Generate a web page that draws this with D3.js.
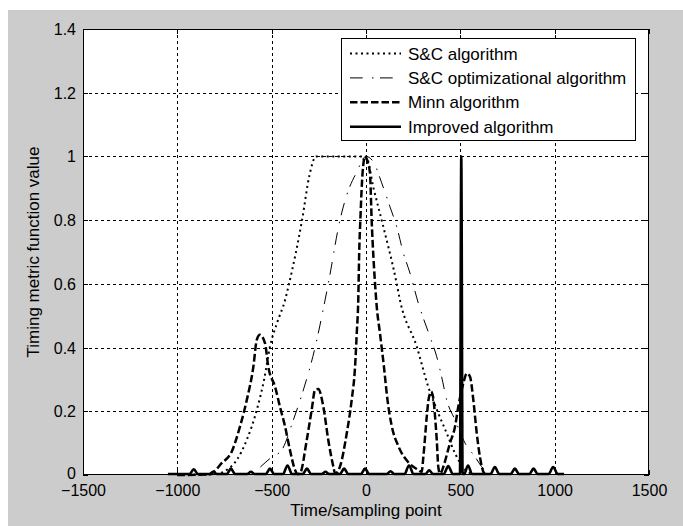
<!DOCTYPE html>
<html>
<head>
<meta charset="utf-8">
<script src="https://cdn.jsdelivr.net/npm/d3@7"></script>
<style>
html,body{margin:0;padding:0;background:#fff;}
svg{display:block;font-family:"Liberation Sans",Arial,sans-serif;}
</style>
</head>
<body>
<svg id="chart" width="683" height="526"></svg>
<script>
// ---- data ----
const xTicks = [-1500, -1000, -500, 0, 500, 1000, 1500];
const yTicks = [0, 0.2, 0.4, 0.6, 0.8, 1, 1.2, 1.4];
const yTickLabels = ["0", "0.2", "0.4", "0.6", "0.8", "1", "1.2", "1.4"];
const seriesNames = ["S&C algorithm", "S&C optimizational algorithm", "Minn algorithm", "Improved algorithm"];

const scX = [-1000, -800, -738, -685, -632, -579, -540, -509, -470, -429, -408, -339, -300, -265, -200, -100, 0, 40, 83, 163, 180, 269, 330, 383, 428, 472, 520, 560];
const scY = [0, 0.003, 0.016, 0.047, 0.11, 0.204, 0.3, 0.403, 0.48, 0.549, 0.6, 0.8, 0.94, 1.0, 1.0, 1.0, 1.0, 0.9, 0.8, 0.6, 0.549, 0.403, 0.277, 0.194, 0.131, 0.068, 0.02, 0.004];

const optX = [-560, -500, -447, -385, -332, -270, -217, -200, -138, -102, -50, 0, 39, 83, 127, 163, 198, 233, 277, 339, 375, 401, 428, 472, 525, 578, 613, 640];
const optY = [0.025, 0.056, 0.078, 0.173, 0.267, 0.40, 0.549, 0.6, 0.8, 0.879, 0.95, 1.0, 0.983, 0.917, 0.842, 0.779, 0.697, 0.634, 0.54, 0.434, 0.371, 0.308, 0.235, 0.173, 0.1, 0.057, 0.026, 0.01];

const minnX = [-1000, -830, -818, -765, -712, -668, -632, -597, -579, -562, -535, -518, -482, -456, -429, -403, -376, -362, -350, -314, -288, -270, -253, -226, -200, -173, -164, -150, -138, -102, -76, -58, -49, -41, -36, -30, -18, -5, 10, 21, 30, 48, 57, 74, 95, 114, 136, 172, 224, 277, 295, 304, 322, 331, 339, 345, 357, 366, 375, 383, 392, 400, 410, 445, 472, 489, 516, 534, 551, 569, 587, 604, 622, 640];
const minnY = [0, 0.002, 0.005, 0.037, 0.073, 0.152, 0.235, 0.34, 0.424, 0.44, 0.413, 0.34, 0.277, 0.214, 0.152, 0.078, 0.016, 0.003, 0.005, 0.11, 0.204, 0.267, 0.27, 0.214, 0.11, 0.026, 0.005, 0.01, 0.026, 0.131, 0.235, 0.34, 0.445, 0.55, 0.7, 0.8, 0.95, 1.0, 0.98, 0.948, 0.8, 0.6, 0.528, 0.445, 0.34, 0.235, 0.155, 0.09, 0.04, 0.016, 0.01, 0.057, 0.183, 0.235, 0.256, 0.262, 0.24, 0.183, 0.11, 0.026, 0.005, 0.01, 0.026, 0.1, 0.152, 0.214, 0.288, 0.319, 0.309, 0.235, 0.131, 0.057, 0.01, 0];

const impX = [-1050, -935, -913, -891, -830, -810, -790, -738, -716, -694, -630, -610, -590, -531, -509, -487, -440, -416, -392, -335, -313, -291, -235, -215, -195, -138, -116, -94, -27, -5, 17, 110, 130, 150, 204, 228, 252, 315, 335, 355, 412, 436, 460, 498, 505, 512, 520, 541, 562, 660, 683, 706, 767, 789, 811, 866, 888, 910, 968, 992, 1016, 1050];
const impY = [0.003, 0.003, 0.018, 0.003, 0.003, 0.01, 0.003, 0.003, 0.02, 0.003, 0.003, 0.01, 0.003, 0.003, 0.02, 0.003, 0.003, 0.03, 0.003, 0.003, 0.02, 0.003, 0.003, 0.01, 0.003, 0.003, 0.02, 0.003, 0.003, 0.02, 0.003, 0.003, 0.012, 0.003, 0.003, 0.03, 0.003, 0.003, 0.015, 0.003, 0.003, 0.028, 0.003, 0.003, 1.0, 0.003, 0.003, 0.03, 0.003, 0.003, 0.025, 0.003, 0.003, 0.02, 0.003, 0.003, 0.02, 0.003, 0.003, 0.025, 0.003, 0.003];

// ---- layout ----
const svg = d3.select("#chart");
const L = 83, R = 649, T = 29, B = 475;
const x = d3.scaleLinear().domain([-1500, 1500]).range([L, R]);
const y = d3.scaleLinear().domain([0, 1.4]).range([B, T]);

// figure background
svg.append("rect").attr("x", 8).attr("y", 10).attr("width", 675).attr("height", 516).attr("fill", "#cccccc");
// axes background
svg.append("rect").attr("x", L).attr("y", T).attr("width", R - L).attr("height", B - T).attr("fill", "#fff");

// grid
const grid = svg.append("g").attr("stroke", "#000").attr("stroke-width", 1).attr("stroke-dasharray", "3,3").attr("shape-rendering", "crispEdges");
xTicks.slice(1, -1).forEach(v => {
  grid.append("line").attr("x1", Math.round(x(v)) + 0.5).attr("x2", Math.round(x(v)) + 0.5).attr("y1", T).attr("y2", B);
});
yTicks.slice(1, -1).forEach(v => {
  grid.append("line").attr("y1", Math.round(y(v)) + 0.5).attr("y2", Math.round(y(v)) + 0.5).attr("x1", L).attr("x2", R);
});

// axes using d3 axis (ticks inward)
const fmtY = (d, i) => yTickLabels[i];
const axB = svg.append("g").attr("transform", `translate(0,${B})`)
  .call(d3.axisBottom(x).tickValues(xTicks).tickSize(-5).tickPadding(9).tickFormat(d3.format("d")));
const axT = svg.append("g").attr("transform", `translate(0,${T})`)
  .call(d3.axisTop(x).tickValues(xTicks).tickSize(-5).tickFormat(""));
const axL = svg.append("g").attr("transform", `translate(${L},0)`)
  .call(d3.axisLeft(y).tickValues(yTicks).tickSize(-5).tickPadding(7).tickFormat(fmtY));
const axR = svg.append("g").attr("transform", `translate(${R},0)`)
  .call(d3.axisRight(y).tickValues(yTicks).tickSize(-5).tickFormat(""));
[axB, axT, axL, axR].forEach(a => {
  a.select(".domain").remove();
  a.selectAll("line").attr("stroke", "#000").attr("shape-rendering", "crispEdges");
  a.selectAll("text").attr("fill", "#000").style("font-size", "16px").style("font-family", '"Liberation Sans",Arial,sans-serif');
});
axB.selectAll("text").attr("dy", "0.71em").attr("y", 10);
axL.selectAll("text").attr("dy", "0.34em");
axL.selectAll("text").filter((d, i) => i === 0).attr("dy", "0.2em");

// curves
const toPts = (xs, ys) => xs.map((v, i) => [v, ys[i]]);
const line = d3.line().x(d => x(d[0])).y(d => y(d[1])).curve(d3.curveMonotoneX);
const plot = svg.append("g");
const styles = [
  { data: toPts(scX, scY), w: 2, dash: "2,3.5" },
  { data: toPts(optX, optY), w: 1, dash: "12.7,9.3,1.5,6.5" },
  { data: toPts(minnX, minnY), w: 2.5, dash: "7.5,3" },
  { data: toPts(impX, impY), w: 2.6, dash: null }
];
styles.forEach(s => {
  plot.append("path").datum(s.data).attr("d", line).attr("fill", "none")
    .attr("stroke", "#000").attr("stroke-width", s.w)
    .attr("stroke-dasharray", s.dash).attr("stroke-linejoin", "round");
});

// axes box
svg.append("rect").attr("x", L + 0.5).attr("y", T + 0.5).attr("width", R - L - 1).attr("height", B - T - 1)
  .attr("fill", "none").attr("stroke", "#000").attr("stroke-width", 1).attr("shape-rendering", "crispEdges");

// labels
svg.append("text").attr("x", x(0)).attr("y", 516).attr("text-anchor", "middle")
  .style("font-size", "17px").text("Time/sampling point");
svg.append("text").attr("transform", `translate(38.5,${(T + B) / 2}) rotate(-90)`).attr("text-anchor", "middle")
  .style("font-size", "17px").text("Timing metric function value");

// legend
const lg = svg.append("g");
lg.append("rect").attr("x", 341.5).attr("y", 38.5).attr("width", 294).attr("height", 102)
  .attr("fill", "#fff").attr("stroke", "#000").attr("stroke-width", 1).attr("shape-rendering", "crispEdges");
seriesNames.forEach((name, i) => {
  const ry = 53.5 + i * 24.4;
  lg.append("line").attr("x1", 350).attr("x2", 401).attr("y1", ry).attr("y2", ry)
    .attr("stroke", "#000").attr("stroke-width", styles[i].w).attr("stroke-dasharray", styles[i].dash);
  lg.append("text").attr("x", 408).attr("y", ry + 6).style("font-size", "17px").text(name);
});
</script>
</body>
</html>
